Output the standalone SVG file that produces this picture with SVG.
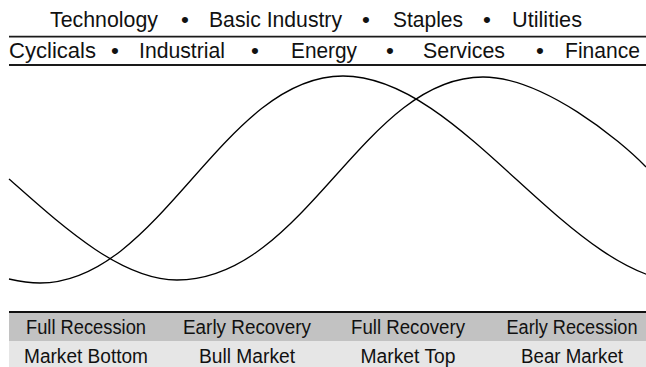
<svg xmlns="http://www.w3.org/2000/svg" width="646" height="367" viewBox="0 0 646 367">
<style>
.t{font-family:"Liberation Sans",Arial,sans-serif;font-size:22.5px;fill:#111}
.b{font-family:"Liberation Sans",Arial,sans-serif;font-size:19.5px;fill:#111;text-anchor:middle}
.m{text-anchor:middle}
.rule{stroke:#1a1a1a;stroke-width:1.8;fill:none}
.curve{stroke:#000;stroke-width:1.3;fill:none}
</style>
<rect width="646" height="367" fill="#fff"/>
<g id="sectors-top">
<text class="t" x="50" y="27" textLength="108" lengthAdjust="spacingAndGlyphs">Technology</text>
<text class="t m" x="185" y="27">•</text>
<text class="t" x="209" y="27" textLength="133" lengthAdjust="spacingAndGlyphs">Basic Industry</text>
<text class="t m" x="366" y="27">•</text>
<text class="t" x="393" y="27" textLength="70" lengthAdjust="spacingAndGlyphs">Staples</text>
<text class="t m" x="487" y="27">•</text>
<text class="t" x="512" y="27" textLength="70" lengthAdjust="spacingAndGlyphs">Utilities</text>
</g>
<line class="rule" x1="9" y1="36.7" x2="646" y2="36.7"/>
<g id="sectors-bottom">
<text class="t" x="9" y="57.5" textLength="87" lengthAdjust="spacingAndGlyphs">Cyclicals</text>
<text class="t m" x="115" y="57.5">•</text>
<text class="t" x="139" y="57.5" textLength="86" lengthAdjust="spacingAndGlyphs">Industrial</text>
<text class="t m" x="255" y="57.5">•</text>
<text class="t" x="291" y="57.5" textLength="66" lengthAdjust="spacingAndGlyphs">Energy</text>
<text class="t m" x="390" y="57.5">•</text>
<text class="t" x="423" y="57.5" textLength="82" lengthAdjust="spacingAndGlyphs">Services</text>
<text class="t m" x="540" y="57.5">•</text>
<text class="t" x="565" y="57.5" textLength="75" lengthAdjust="spacingAndGlyphs">Finance</text>
</g>
<line class="rule" x1="9" y1="65" x2="646" y2="65"/>
<g id="curves">
<path id="economy" class="curve" d="M9,279 C20,281.5 30,283 40,283 C160,283 223,76 343,76 C463,76 570,283 690,283"/>
<path id="market" class="curve" d="M9,179 C60,224 120,280 177,280 C305,280 363,77 483,77 C543,77 620,140 646,167"/>
</g>
<g id="phases">
<rect x="9" y="313" width="637" height="28" fill="#c2c2c2"/>
<rect x="9" y="341" width="637" height="26" fill="#e6e6e6"/>
<line x1="9" y1="312" x2="646" y2="312" stroke="#111" stroke-width="2"/>
<text class="b" x="86" y="334.3" textLength="120" lengthAdjust="spacingAndGlyphs">Full Recession</text>
<text class="b" x="247" y="334.3" textLength="128" lengthAdjust="spacingAndGlyphs">Early Recovery</text>
<text class="b" x="408" y="334.3" textLength="114" lengthAdjust="spacingAndGlyphs">Full Recovery</text>
<text class="b" x="572" y="334.3" textLength="131" lengthAdjust="spacingAndGlyphs">Early Recession</text>
<text class="b" x="86" y="363" textLength="124" lengthAdjust="spacingAndGlyphs">Market Bottom</text>
<text class="b" x="247" y="363" textLength="96" lengthAdjust="spacingAndGlyphs">Bull Market</text>
<text class="b" x="408" y="363" textLength="95" lengthAdjust="spacingAndGlyphs">Market Top</text>
<text class="b" x="572" y="363" textLength="102" lengthAdjust="spacingAndGlyphs">Bear Market</text>
</g>
</svg>
